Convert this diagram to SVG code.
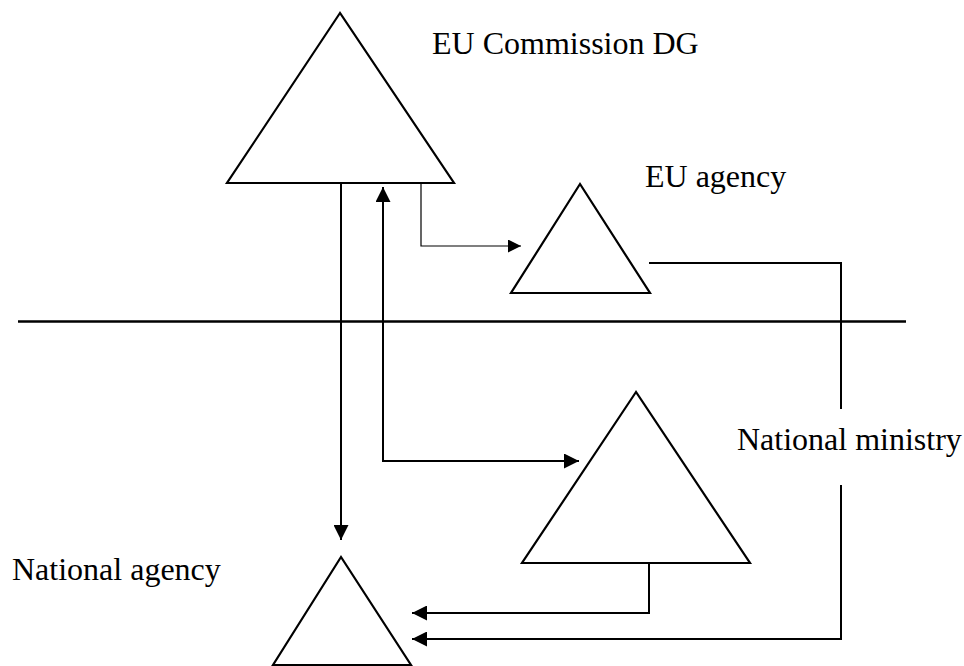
<svg xmlns="http://www.w3.org/2000/svg" width="964" height="666" viewBox="0 0 964 666">
<defs>
<style>
.tri{fill:#fff;stroke:#000;stroke-width:2.2;stroke-linejoin:miter}
.lbl{font-family:'Liberation Serif','Times New Roman','DejaVu Serif',serif;font-size:32px;fill:#000}
.con{fill:none;stroke:#000;stroke-width:2}
.thin{fill:none;stroke:#000;stroke-width:1.2}
</style>
<marker id="ah" viewBox="0 0 10 10" refX="10" refY="5" markerUnits="userSpaceOnUse" markerWidth="15" markerHeight="15" orient="auto-start-reverse">
<path d="M0,0 L10,5 L0,10 z" fill="#000"/>
</marker>
<marker id="ahs" viewBox="0 0 10 10" refX="10" refY="5" markerUnits="userSpaceOnUse" markerWidth="14" markerHeight="13" orient="auto">
<path d="M0,0 L10,5 L0,10 z" fill="#000"/>
</marker>
</defs>
<rect width="964" height="666" fill="#fff"/>
<line x1="18" y1="321.5" x2="906" y2="321.5" stroke="#000" stroke-width="2.5"/>
<g id="connectors">
<path class="con" d="M341,184 L341,540" marker-end="url(#ah)"/>
<path class="con" d="M383,187 L383,461 L579,461" marker-start="url(#ah)" marker-end="url(#ah)"/>
<path class="thin" d="M421,184 L421,246 L521,246" marker-end="url(#ahs)"/>
<path class="con" d="M649,263 L841,263 L841,409"/>
<path class="con" d="M841,485 L841,639 L412,639" marker-end="url(#ah)"/>
<path class="con" d="M649,564 L649,613 L412,613" marker-end="url(#ah)"/>
</g>
<g id="eu-commission-dg">
<polygon class="tri" points="340,13 227,183 454,183"/>
<text class="lbl" font-family="Liberation Serif, serif" x="432" y="54">EU Commission DG</text>
</g>
<g id="eu-agency">
<polygon class="tri" points="580,184 511,293 650,293"/>
<text class="lbl" font-family="Liberation Serif, serif" x="645" y="187">EU agency</text>
</g>
<g id="national-ministry">
<polygon class="tri" points="636,392 522,563 750,563"/>
<text class="lbl" font-family="Liberation Serif, serif" x="737" y="450">National ministry</text>
</g>
<g id="national-agency">
<polygon class="tri" points="341,557 273,665 411,665"/>
<text class="lbl" font-family="Liberation Serif, serif" x="12" y="580">National agency</text>
</g>
</svg>
